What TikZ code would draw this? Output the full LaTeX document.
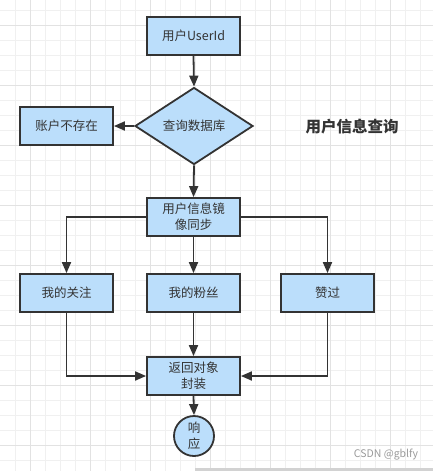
\documentclass[tikz,border=0pt]{standalone}
\usepackage{fontspec}
\setmainfont{Noto Sans CJK SC}
\newfontfamily\cjk{Noto Sans CJK SC}
\usetikzlibrary{shapes.geometric,arrows.meta}
\definecolor{boxfill}{HTML}{BBDEFB}
\definecolor{ink}{HTML}{333333}
\definecolor{gridlight}{HTML}{F0F0F0}
\definecolor{griddark}{HTML}{E2E2E2}
\definecolor{wm}{HTML}{9A9A9A}
\begin{document}
\begin{tikzpicture}[x=1pt,y=-1pt,
  every node/.style={font=\cjk\fontsize{12.5}{16}\selectfont, text=ink},
  stepbox/.style={draw=ink, line width=1.8pt, fill=boxfill, rectangle,
    minimum width=93pt, minimum height=38pt, inner sep=0pt, align=center},
  decbox/.style={draw=ink, line width=1.8pt, fill=boxfill, diamond,
    minimum width=118pt, minimum height=77pt, inner sep=0pt},
  endbox/.style={draw=ink, line width=1.8pt, fill=boxfill, circle,
    minimum size=40pt, inner sep=0pt, align=center},
  conn/.style={draw=ink, line width=1.8pt, -{Triangle[length=11pt,width=9pt]}}
]
\useasboundingbox (0,0) rectangle (433,471);
\fill[white] (0,0) rectangle (433,471);
% grid
\foreach \i in {1,...,28} \draw[gridlight, line width=1pt] (15*\i,0) -- (15*\i,471);
\foreach \j in {0,...,31} \draw[gridlight, line width=1pt] (0,10+15*\j) -- (433,10+15*\j);
\foreach \i in {0,...,6} \draw[griddark, line width=1pt] (30+60*\i,0) -- (30+60*\i,471);
\foreach \j in {0,...,7} \draw[griddark, line width=1pt] (0,25+60*\j) -- (433,25+60*\j);
\fill[gray!35] (195,468) rectangle (433,471);

% nodes
\node[stepbox] (uid) at (193.5,36) {用户UserId};
\node[decbox] (dia) at (194,126) {查询数据库};
\node[stepbox] (no) at (66.5,126) {账户不存在};
\node[stepbox] (sync) at (193.5,217) {用户信息镜\\像同步};
\node[stepbox] (follow) at (66.5,293) {我的关注};
\node[stepbox] (fans) at (193.5,293) {我的粉丝};
\node[stepbox] (like) at (327.5,293) {赞过};
\node[stepbox] (ret) at (193.5,376) {返回对象\\封装};
\node[endbox] (resp) at (194,436) {响\\应};
\node[font=\cjk\bfseries\fontsize{15.5}{18}\selectfont] (title) at (352,127) {用户信息查询};
\node[font=\cjk\fontsize{10.5}{12}\selectfont, text=wm] (mark) at (386,455) {CSDN @gblfy};

% connectors
\draw[conn] (uid.south) -- (dia.north);
\draw[conn] (dia.west) -- (no.east);
\draw[conn] (dia.south) -- (sync.north);
\draw[conn] (sync.west) -| (follow.north);
\draw[conn] (sync.south) -- (fans.north);
\draw[conn] (sync.east) -| (like.north);
\draw[conn] (fans.south) -- (ret.north);
\draw[conn] (follow.south) |- (ret.west);
\draw[conn] (like.south) |- (ret.east);
\draw[conn] (ret.south) -- (resp.north);
\end{tikzpicture}
\end{document}
